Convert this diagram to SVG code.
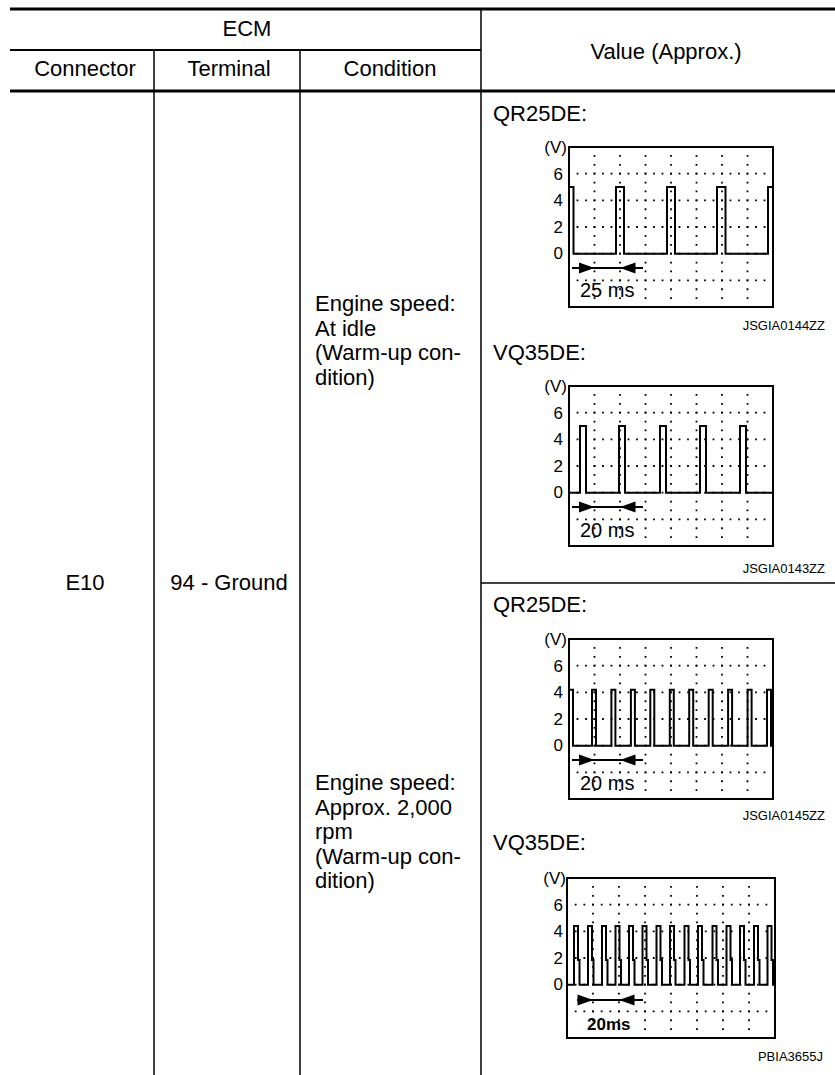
<svg xmlns="http://www.w3.org/2000/svg" xmlns:xlink="http://www.w3.org/1999/xlink" width="835" height="1075" viewBox="0 0 835 1075">
<style>
  text { font-family: "Liberation Sans", Arial, sans-serif; fill: #000; }
  .t { font-size: 22px; }
  .c { text-anchor: middle; }
  .ax { font-family: "Liberation Sans Narrow", "Arial Narrow", "Liberation Sans", Arial, sans-serif; font-size: 17px; text-anchor: end; }
  .ms { font-size: 20px; }
  .ms4 { font-family: "Liberation Sans Narrow", "Arial Narrow", "Liberation Sans", Arial, sans-serif; font-size: 17px; font-weight: bold; }
  .code { font-size: 13px; text-anchor: end; }
  .rule { stroke: #000; fill: none; }
  .thick { stroke-width: 3; }
  .mid { stroke-width: 2; }
  .thin { stroke-width: 1.5; }
  .box { fill: #fff; stroke: #000; stroke-width: 2; }
  .hdot { stroke: #000; stroke-width: 1.8; stroke-dasharray: 1.8 6.7; stroke-dashoffset: 0.9; fill: none; }
  .vdot { stroke: #000; stroke-width: 1.8; stroke-dasharray: 1.8 7.09; stroke-dashoffset: 0.9; fill: none; }
  .hdot4 { stroke: #000; stroke-width: 1.8; stroke-dasharray: 1.8 6.87; stroke-dashoffset: 0.9; fill: none; }
  .wave { stroke: #000; stroke-width: 2; fill: none; stroke-linejoin: miter; }
  .dim { stroke: #000; stroke-width: 2; fill: none; }
  .head { fill: #000; stroke: none; }
</style>
<defs>
  <g id="grid204">
    <rect class="box" x="0" y="0" width="204" height="160"/>
    <path class="hdot" d="M0,26.67 H204 M0,53.33 H204 M0,80 H204 M0,106.67 H204 M0,133.33 H204"/>
    <path class="vdot" d="M25.5,0 V160 M51,0 V160 M76.5,0 V160 M102,0 V160 M127.5,0 V160 M153,0 V160 M178.5,0 V160"/>
    <rect x="0" y="0" width="204" height="160" fill="none" stroke="#000" stroke-width="2"/>
  </g>
  <g id="grid208">
    <rect class="box" x="0" y="0" width="208" height="160"/>
    <path class="hdot4" d="M0,26.67 H208 M0,53.33 H208 M0,80 H208 M0,106.67 H208 M0,133.33 H208"/>
    <path class="vdot" d="M26,0 V160 M52,0 V160 M78,0 V160 M104,0 V160 M130,0 V160 M156,0 V160 M182,0 V160"/>
    <rect x="0" y="0" width="208" height="160" fill="none" stroke="#000" stroke-width="2"/>
  </g>
  <g id="dim204">
    <path class="dim" d="M3,121 H74"/>
    <polygon class="head" points="10,115.5 25.5,121 10,126.5"/>
    <polygon class="head" points="51,121 66.5,115.5 66.5,126.5"/>
  </g>
  <g id="dim208">
    <path class="dim" d="M10,122 H76"/>
    <polygon class="head" points="10.5,116.5 26,122 10.5,127.5"/>
    <polygon class="head" points="52,122 67.5,116.5 67.5,127.5"/>
  </g>
</defs>

<g id="connectors">
  <path class="rule thick" d="M10,9 H835"/>
  <path class="rule mid" d="M10,50 H481"/>
  <path class="rule thick" d="M10,91 H835"/>
  <path class="rule thin" d="M154,50 V1075"/>
  <path class="rule thin" d="M300,50 V1075"/>
  <path class="rule thin" d="M481,9 V1075"/>
  <path class="rule thin" d="M481,583 H835"/>
</g>

<g id="header">
  <text class="t c" x="247" y="36">ECM</text>
  <text class="t c" x="666" y="59">Value (Approx.)</text>
  <text class="t c" x="85" y="76">Connector</text>
  <text class="t c" x="229" y="76">Terminal</text>
  <text class="t c" x="390" y="76">Condition</text>
</g>

<g id="connector-cell">
  <text class="t c" x="85" y="589.5">E10</text>
</g>
<g id="terminal-cell">
  <text class="t c" x="229" y="589.5">94 - Ground</text>
</g>

<g id="condition-idle">
  <text class="t" x="315" y="311">Engine speed:</text>
  <text class="t" x="315" y="335.5">At idle</text>
  <text class="t" x="315" y="360">(Warm-up con-</text>
  <text class="t" x="315" y="384.5">dition)</text>
</g>

<g id="condition-2000">
  <text class="t" x="315" y="790">Engine speed:</text>
  <text class="t" x="315" y="814.5">Approx. 2,000</text>
  <text class="t" x="315" y="839">rpm</text>
  <text class="t" x="315" y="863.5">(Warm-up con-</text>
  <text class="t" x="315" y="888">dition)</text>
</g>

<g id="chart-qr25de-idle">
  <text class="t" x="493" y="121">QR25DE:</text>
  <use xlink:href="#grid204" href="#grid204" transform="translate(569,147)"/>
  <path class="wave" d="M569,187 H573.5 V253.67 H616 V187 H624 V253.67 H667 V187 H675 V253.67 H717 V187 H725.5 V253.67 H768 V187 H773"/>
  <use xlink:href="#dim204" href="#dim204" transform="translate(569,147)"/>
  <text class="ms" x="580" y="297">25 ms</text>
  <text class="ax" x="567" y="153">(V)</text>
  <text class="ax" x="563" y="179.5">6</text>
  <text class="ax" x="563" y="206">4</text>
  <text class="ax" x="563" y="232.7">2</text>
  <text class="ax" x="563" y="259.4">0</text>
  <text class="code" x="825" y="329.5">JSGIA0144ZZ</text>
</g>

<g id="chart-vq35de-idle">
  <text class="t" x="493" y="360">VQ35DE:</text>
  <use xlink:href="#grid204" href="#grid204" transform="translate(569,386)"/>
  <path class="wave" d="M569,492.67 H580 V426 H586 V492.67 H619 V426 H625 V492.67 H660 V426 H666 V492.67 H700 V426 H706 V492.67 H740 V426 H746 V492.67 H773"/>
  <use xlink:href="#dim204" href="#dim204" transform="translate(569,386)"/>
  <text class="ms" x="580" y="537">20 ms</text>
  <text class="ax" x="567" y="392">(V)</text>
  <text class="ax" x="563" y="418.5">6</text>
  <text class="ax" x="563" y="445">4</text>
  <text class="ax" x="563" y="471.7">2</text>
  <text class="ax" x="563" y="498.4">0</text>
  <text class="code" x="825" y="573">JSGIA0143ZZ</text>
</g>

<g id="chart-qr25de-2000">
  <text class="t" x="493" y="611.5">QR25DE:</text>
  <use xlink:href="#grid204" href="#grid204" transform="translate(569,639)"/>
  <path class="wave" d="M569,689.7 H573 V745.67 H592 V689.7 H596 V745.67 H611.4 V689.7 H615.4 V745.67 H630.9 V689.7 H634.9 V745.67 H650.3 V689.7 H654.3 V745.67 H669.8 V689.7 H673.8 V745.67 H689.2 V689.7 H693.2 V745.67 H708.7 V689.7 H712.7 V745.67 H728.1 V689.7 H732.1 V745.67 H747.6 V689.7 H751.6 V745.67 H767 V689.7 H771 V745.67 H773"/>
  <use xlink:href="#dim204" href="#dim204" transform="translate(569,639)"/>
  <text class="ms" x="580" y="790">20 ms</text>
  <text class="ax" x="567" y="645">(V)</text>
  <text class="ax" x="563" y="671.5">6</text>
  <text class="ax" x="563" y="698">4</text>
  <text class="ax" x="563" y="724.7">2</text>
  <text class="ax" x="563" y="751.4">0</text>
  <text class="code" x="825" y="819.5">JSGIA0145ZZ</text>
</g>

<g id="chart-vq35de-2000">
  <text class="t" x="493" y="850">VQ35DE:</text>
  <use xlink:href="#grid208" href="#grid208" transform="translate(567,878)"/>
  <path class="wave" d="M567,984.7 H574 V926 H578 V960 H579.5 V984.7 H588 V926 H592 V960 H593.5 V984.7 H602 V926 H606 V960 H607.5 V984.7 H615.5 V926 H619.5 V960 H621 V984.7 H629 V926 H633 V960 H634.5 V984.7 H642.5 V926 H646.5 V960 H648 V984.7 H656.5 V926 H660.5 V960 H662 V984.7 H670 V926 H674 V960 H675.5 V984.7 H684.5 V926 H688.5 V960 H690 V984.7 H698 V926 H702 V960 H703.5 V984.7 H712.5 V926 H716.5 V960 H718 V984.7 H726.5 V926 H730.5 V960 H732 V984.7 H740 V926 H744 V960 H745.5 V984.7 H754 V926 H758 V960 H759.5 V984.7 H767.5 V926 H771.5 V960 H773 V984.7 H775"/>
  <use xlink:href="#dim208" href="#dim208" transform="translate(567,878)"/>
  <text class="ms4" x="587" y="1030">20ms</text>
  <text class="ax" x="566" y="884">(V)</text>
  <text class="ax" x="563" y="910.5">6</text>
  <text class="ax" x="563" y="937">4</text>
  <text class="ax" x="563" y="963.7">2</text>
  <text class="ax" x="563" y="990.4">0</text>
  <text class="code" x="823" y="1061">PBIA3655J</text>
</g>
</svg>
